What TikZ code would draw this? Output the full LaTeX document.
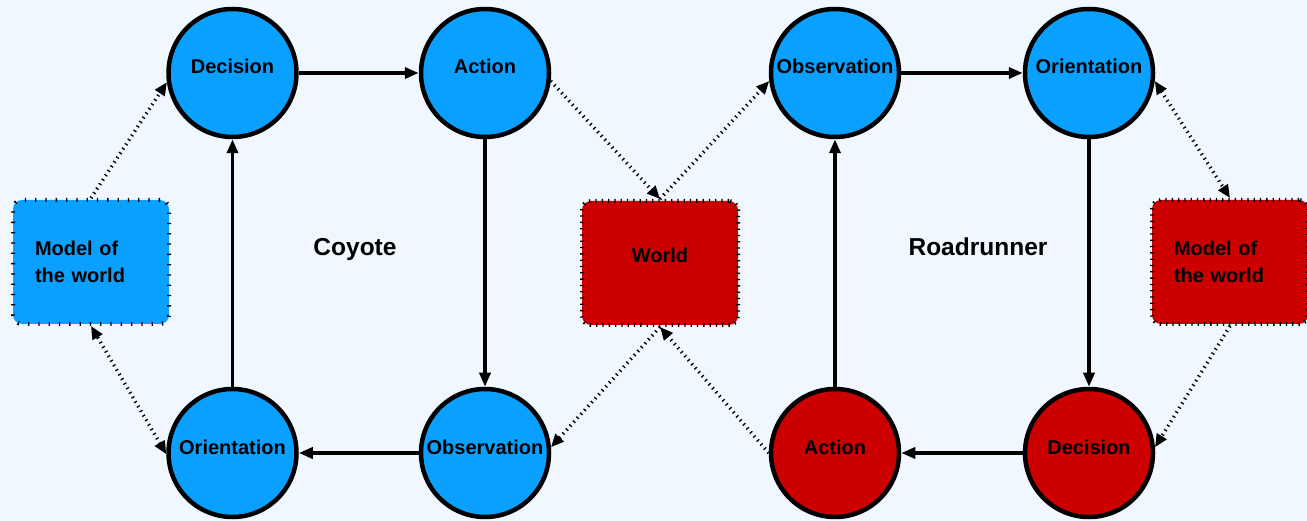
\documentclass[tikz,border=0pt]{standalone}
\usepackage{fontspec}
\setmainfont{Liberation Sans}
\usetikzlibrary{arrows.meta}
\definecolor{coyoteblue}{RGB}{10,160,255}
\definecolor{runnerred}{RGB}{204,0,0}
\definecolor{skyback}{RGB}{240,247,254}

\begin{document}
\begin{tikzpicture}
[every node/.style={inner sep=0pt, font=\fontsize{20}{27}\selectfont\bfseries},
 state/.style={circle, minimum size=128pt, line width=4.5pt, draw=black, text height=14pt, text depth=12pt},
 box/.style={rectangle, rounded corners=9pt, minimum width=156pt, minimum height=124pt, line width=4pt, draw=black},
 model/.style={box, text width=112pt, align=left},
 title/.style={font=\fontsize{24.5}{30}\selectfont\bfseries},
 solidarrow/.style={line width=3.5pt, -{Triangle[length=14pt, width=11pt]}},
 dotarrow/.style={line width=3.5pt, dash pattern=on 1.3pt off 4pt, -{Triangle[length=13pt, width=11pt]}},
 dotboth/.style={line width=3.5pt, dash pattern=on 1.3pt off 4pt, {Triangle[length=13pt, width=11pt]}-{Triangle[length=13pt, width=11pt]}}]
\useasboundingbox (0pt, 0pt) rectangle (1307pt, -521pt);
\fill [skyback] (0pt, 0pt) rectangle (1307pt, -521pt);
\node (1) [model, fill=coyoteblue, dash pattern=on 1.3pt off 9pt] at (91pt, -262pt) {Model of\\the world};
\node (2) [state, fill=coyoteblue] at (232.5pt, -73pt) {Decision};
\node (3) [state, fill=coyoteblue] at (485pt, -73pt) {Action};
\node (4) [state, fill=coyoteblue] at (485pt, -453pt) {Observation};
\node (5) [state, fill=coyoteblue] at (232.5pt, -453pt) {Orientation};
\node (6) [box, fill=runnerred, dash pattern=on 1.3pt off 5pt, text height=14pt, text depth=14pt] at (660pt, -263pt) {World};
\node (7) [state, fill=coyoteblue] at (835pt, -73pt) {Observation};
\node (8) [state, fill=coyoteblue] at (1089pt, -73pt) {Orientation};
\node (9) [state, fill=runnerred] at (1089pt, -453pt) {Decision};
\node (10) [state, fill=runnerred] at (835pt, -453pt) {Action};
\node (11) [model, fill=runnerred, dash pattern=on 1.3pt off 5pt] at (1230pt, -262pt) {Model of\\the world};
\node (12) [title] at (355pt, -249pt) {Coyote};
\node (13) [title] at (978pt, -247pt) {Roadrunner};
\draw [solidarrow] (2) -- (3);
\draw [solidarrow] (3) -- (4);
\draw [solidarrow] (4) -- (5);
\draw [solidarrow] (5) -- (2);
\draw [solidarrow] (7) -- (8);
\draw [solidarrow] (8) -- (9);
\draw [solidarrow] (9) -- (10);
\draw [solidarrow] (10) -- (7);
\draw [dotarrow] (1.north) -- (2.188);
\draw [dotboth] (5.181) -- (1.south);
\draw [dotarrow] (3.-7) -- (6.north);
\draw [dotarrow] (6.north) -- (7.187);
\draw [dotarrow] (6.south) -- (4.5);
\draw [dotarrow] (10.180) -- (6.south);
\draw [dotboth] (8.-7) -- (11.north);
\draw [dotarrow] (11.south) -- (9.5);
\end{tikzpicture}
\end{document}
